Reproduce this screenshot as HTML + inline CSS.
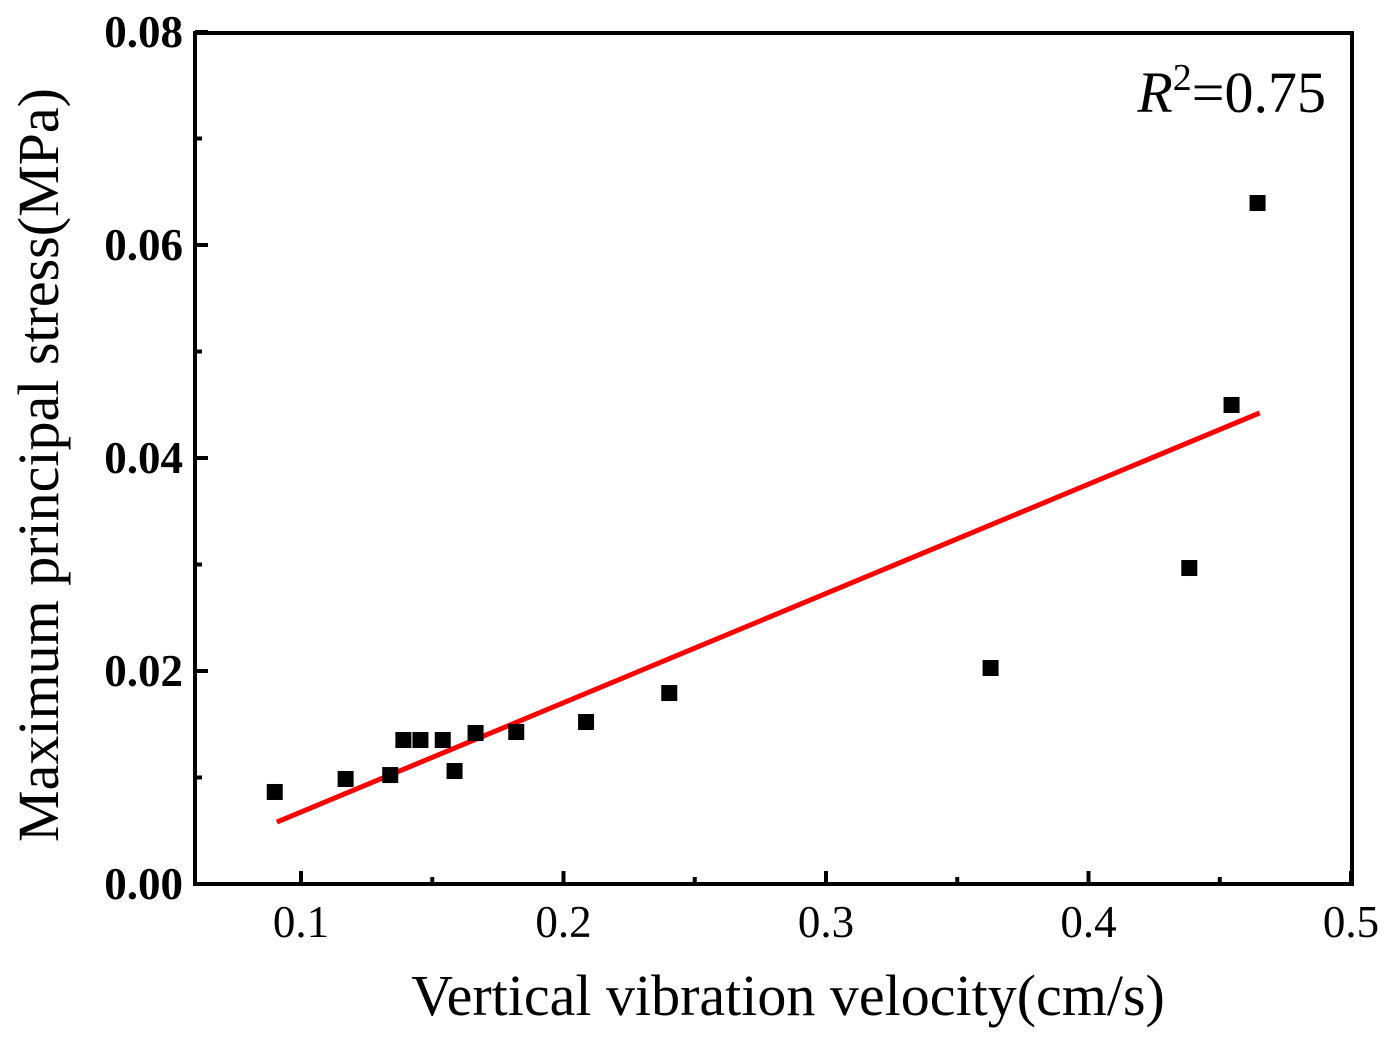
<!DOCTYPE html>
<html><head><meta charset="utf-8"><style>
html,body{margin:0;padding:0;background:#fff;}
svg{display:block;}
</style></head><body>
<svg id="chart" width="1391" height="1040" viewBox="0 0 1391 1040" xmlns="http://www.w3.org/2000/svg">
<g id="ticks"></g>
<g id="fitg"></g>
<g id="pts"></g>
<rect x="195" y="33" width="1157" height="851" fill="none" stroke="#000" stroke-width="4"/>
<g id="labels" font-family="'Liberation Serif', serif" font-size="45"></g>
<text x="788" y="1015" text-anchor="middle" font-family="'Liberation Serif', serif" font-size="58">Vertical vibration velocity(cm/s)</text>
<text transform="translate(58,465) rotate(-90)" text-anchor="middle" font-family="'Liberation Serif', serif" font-size="58">Maximum principal stress(MPa)</text>
<text x="1326" y="112" text-anchor="end" font-family="'Liberation Serif', serif" font-size="58"><tspan font-style="italic">R</tspan><tspan dy="-22" font-size="38">2</tspan><tspan dy="22">=0.75</tspan></text>
</svg>
<script>
const xValues=[0.090,0.117,0.134,0.139,0.1455,0.154,0.1585,0.1665,0.182,0.2086,0.2403,0.3627,0.4384,0.4545,0.4644];
const yValues=[0.00864,0.00986,0.01023,0.01352,0.01352,0.01352,0.01061,0.01418,0.01427,0.01521,0.01793,0.02028,0.02967,0.04498,0.06394];
const fitSlope=[0.1026];
const fitIntercept=[-0.0035];
const fitRange=[0.0908,0.4652];
const xTicks=[0.1,0.2,0.3,0.4,0.5];
const xTickLabels=["0.1","0.2","0.3","0.4","0.5"];
const yTicks=[0,0.02,0.04,0.06,0.08];
const yTickLabels=["0.00","0.02","0.04","0.06","0.08"];
const NS="http://www.w3.org/2000/svg";
function X(v){return 301+(v-0.1)*2625;}
function Y(v){return 884-v*10650;}
function mk(t,a,p){const e=document.createElementNS(NS,t);for(const k in a)e.setAttribute(k,a[k]);p.appendChild(e);return e;}
const tk=document.getElementById('ticks'),lb=document.getElementById('labels');
xTicks.forEach((v,i)=>{
  const t=mk('line',{x1:X(v),x2:X(v),y1:884,y2:871,stroke:'#000','stroke-width':4},tk);
  
  
  if(i<xTicks.length-1){const m=mk('line',{x1:X(v+0.05),x2:X(v+0.05),y1:884,y2:877,stroke:'#000','stroke-width':4},tk);
  
  }
  const l=mk('text',{x:X(v),y:937,'text-anchor':'middle'},lb);l.textContent=xTickLabels[i];
  
  
});
yTicks.forEach((v,i)=>{
  const t=mk('line',{x1:195,x2:208,y1:Y(v),y2:Y(v),stroke:'#000','stroke-width':4},tk);
  
  
  if(i<yTicks.length-1){const m=mk('line',{x1:195,x2:202,y1:Y(v+0.01),y2:Y(v+0.01),stroke:'#000','stroke-width':4},tk);
  
  }
  const l=mk('text',{x:183,y:Y(v)+15,'text-anchor':'end','font-weight':'bold'},lb);l.textContent=yTickLabels[i];
  
  
});
const fl=mk('line',{x1:X(fitRange[0]),y1:Y(fitSlope[0]*fitRange[0]+fitIntercept[0]),x2:X(fitRange[1]),y2:Y(fitSlope[0]*fitRange[1]+fitIntercept[0]),stroke:'#ff0000','stroke-width':5},document.getElementById('fitg'));


const pg=document.getElementById('pts');
xValues.forEach((v,i)=>{
  const r=mk('rect',{x:X(v)-8,y:Y(yValues[i])-8,width:16,height:16,fill:'#000'},pg);
  
  
});
</script>
</body></html>
